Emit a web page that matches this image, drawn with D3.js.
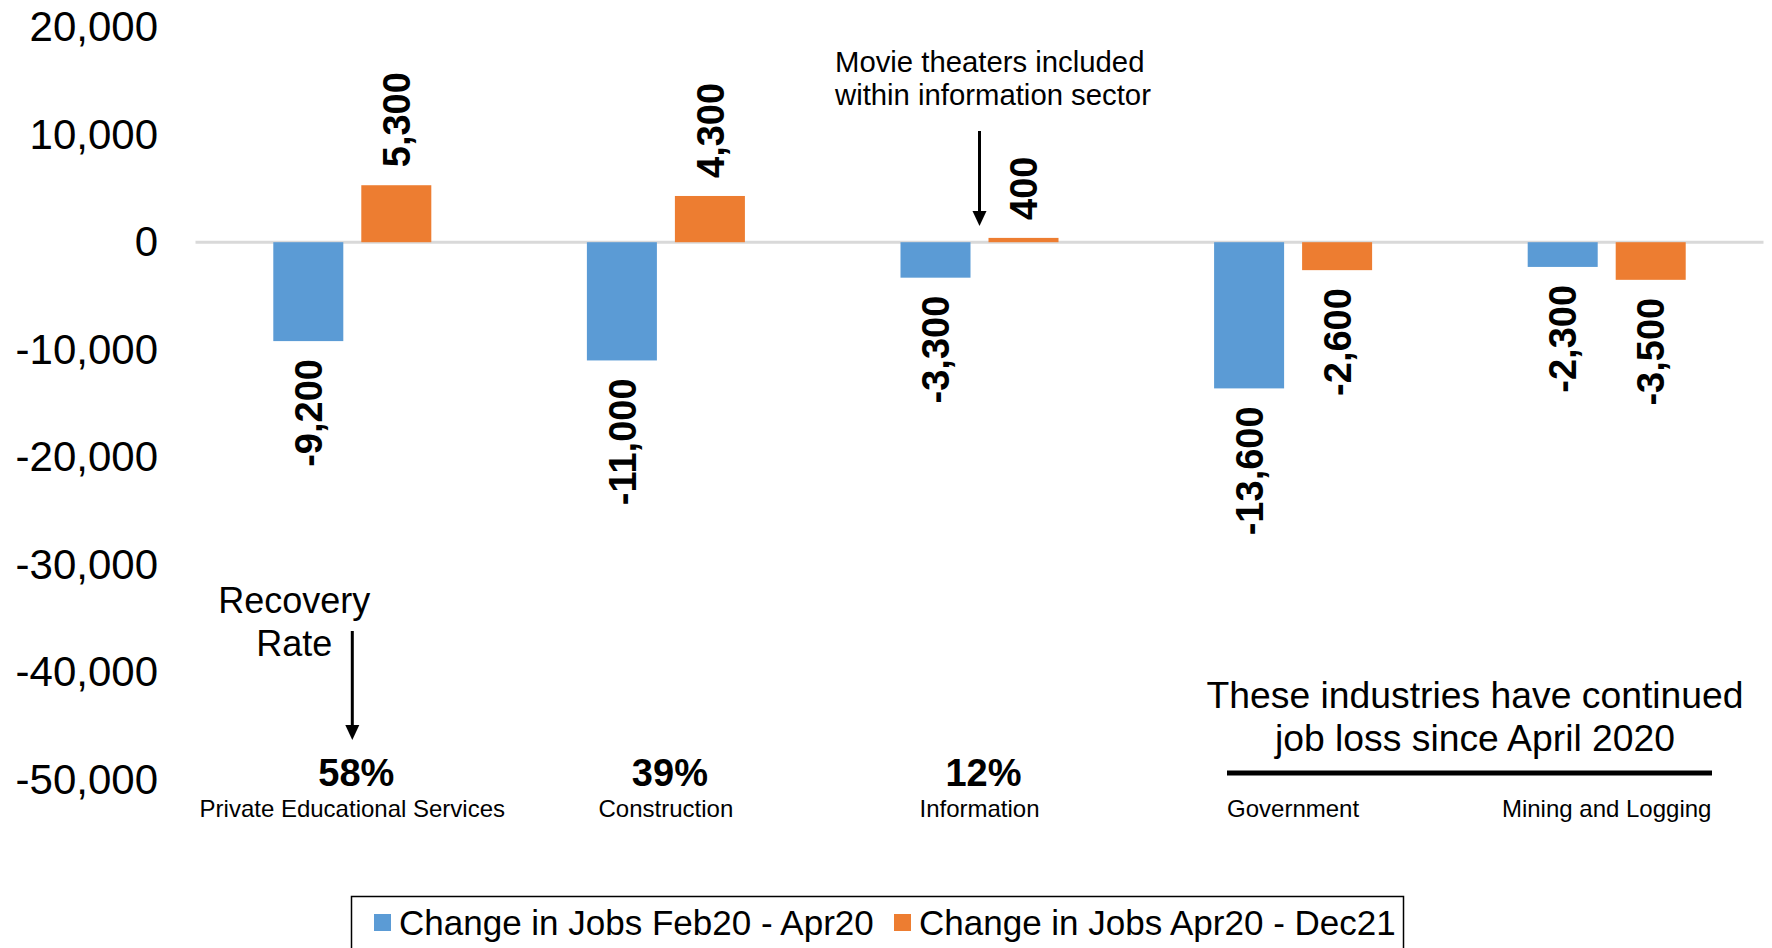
<!DOCTYPE html>
<html lang="en">
<head>
<meta charset="utf-8">
<title>Job change by industry</title>
<script src="https://cdn.jsdelivr.net/npm/d3@7"></script>
<style>
  body { margin: 0; background: #fff; }
  text { font-family: "Liberation Sans", Arial, sans-serif; fill: #000; }
</style>
</head>
<body>
<script>
// data
var categories = ["Private Educational Services", "Construction", "Information", "Government", "Mining and Logging"];
var series = ["Change in Jobs Feb20 - Apr20", "Change in Jobs Apr20 - Dec21"];
var febApr = [-9200, -11000, -3300, -13600, -2300];
var aprDec = [5300, 4300, 400, -2600, -3500];
var recovery = ["58%", "39%", "12%", null, null];
var yTicks = [20000, 10000, 0, -10000, -20000, -30000, -40000, -50000];
var colors = ["#5B9BD5", "#ED7D31"];

var w = 1772, h = 948;

// plain hyphen instead of unicode minus
var fmt = function (v) { return d3.format(",")(v).replace("\u2212", "-"); };

var svg = d3.select("body").append("svg")
    .attr("width", w)
    .attr("height", h);

// scales
var y = d3.scaleLinear()
    .domain([-50000, 20000])
    .range([779.7, 27.2]);

var x0 = d3.scaleBand()
    .domain(categories)
    .range([195.5, 1763.5]);

var x1 = d3.scaleBand()
    .domain(series)
    .range([0, x0.bandwidth()])
    .paddingInner(0.2045)
    .paddingOuter(0.884);

// y axis
var yAxis = d3.axisLeft(y)
    .tickValues(yTicks)
    .tickSize(0)
    .tickPadding(37)
    .tickFormat(fmt);

var gy = svg.append("g")
    .attr("transform", "translate(195,0)")
    .call(yAxis);
gy.select(".domain").remove();
gy.selectAll("text")
    .style("font-family", "'Liberation Sans', Arial, sans-serif")
    .style("font-size", "42px")
    .attr("fill", "#000");

// zero line
svg.append("line")
    .attr("x1", x0.range()[0])
    .attr("x2", x0.range()[1])
    .attr("y1", y(0))
    .attr("y2", y(0))
    .attr("stroke", "#d9d9d9")
    .attr("stroke-width", 3);

var rows = categories.map(function (c, i) {
    return [
        { cat: c, s: series[0], v: febApr[i], k: 0 },
        { cat: c, s: series[1], v: aprDec[i], k: 1 }
    ];
});
var flat = [].concat.apply([], rows);

// bars
svg.selectAll("rect.bar")
    .data(flat)
    .enter()
    .append("rect")
    .attr("class", "bar")
    .attr("x", function (d) { return x0(d.cat) + x1(d.s); })
    .attr("width", x1.bandwidth())
    .attr("y", function (d) { return y(Math.max(0, d.v)); })
    .attr("height", function (d) { return Math.abs(y(d.v) - y(0)); })
    .attr("fill", function (d) { return colors[d.k]; });

// value labels (rotated)
svg.selectAll("text.val")
    .data(flat)
    .enter()
    .append("text")
    .attr("class", "val")
    .attr("transform", function (d) {
        var cx = x0(d.cat) + x1(d.s) + x1.bandwidth() / 2;
        var yy = d.v >= 0 ? y(d.v) - 18 : y(d.v) + 18;
        return "translate(" + cx + "," + yy + ") rotate(-90)";
    })
    .attr("dy", "0.36em")
    .attr("text-anchor", function (d) { return d.v >= 0 ? "start" : "end"; })
    .style("font-size", "38px")
    .style("font-weight", "bold")
    .text(function (d) { return fmt(d.v); });

// category labels
svg.selectAll("text.cat")
    .data(categories)
    .enter()
    .append("text")
    .attr("class", "cat")
    .attr("x", function (d) { return x0(d) + x0.bandwidth() / 2; })
    .attr("y", 817)
    .attr("text-anchor", "middle")
    .style("font-size", "24px")
    .text(function (d) { return d; });

// recovery rates
svg.selectAll("text.rec")
    .data(categories.filter(function (d, i) { return recovery[i]; }))
    .enter()
    .append("text")
    .attr("class", "rec")
    .attr("x", function (d) { return x0(d) + x0.bandwidth() / 2 + 4; })
    .attr("y", 786)
    .attr("text-anchor", "middle")
    .style("font-size", "38px")
    .style("font-weight", "bold")
    .text(function (d) { return recovery[categories.indexOf(d)]; });

// arrow helper
function arrow(xp, yTop, yBot) {
    svg.append("line")
        .attr("x1", xp).attr("x2", xp)
        .attr("y1", yTop).attr("y2", yBot - 12)
        .attr("stroke", "#000")
        .attr("stroke-width", 3);
    svg.append("path")
        .attr("d", "M" + (xp - 7) + "," + (yBot - 15) + "L" + (xp + 7) + "," + (yBot - 15) + "L" + xp + "," + yBot + "Z")
        .attr("fill", "#000");
}

// Recovery Rate annotation
var c0 = x0(categories[0]) + x0.bandwidth() / 2;
var recText = svg.append("text")
    .attr("text-anchor", "middle")
    .style("font-size", "36px");
recText.append("tspan").attr("x", c0 - 58).attr("y", 613).text("Recovery");
recText.append("tspan").attr("x", c0 - 58).attr("y", 656).text("Rate");
arrow(c0, 631, 740);

// movie theaters annotation
var c2 = x0(categories[2]) + x0.bandwidth() / 2;
var mv = svg.append("text")
    .style("font-size", "29.3px");
mv.append("tspan").attr("x", 835).attr("y", 72).text("Movie theaters included");
mv.append("tspan").attr("x", 835).attr("y", 105).text("within information sector");
arrow(c2, 131, 226);

// continued job loss annotation
var jl = svg.append("text")
    .attr("text-anchor", "middle")
    .style("font-size", "37.3px");
jl.append("tspan").attr("x", 1475).attr("y", 708).text("These industries have continued");
jl.append("tspan").attr("x", 1475).attr("y", 751).text("job loss since April 2020");
svg.append("line")
    .attr("x1", 1227).attr("x2", 1712)
    .attr("y1", 773).attr("y2", 773)
    .attr("stroke", "#000")
    .attr("stroke-width", 5);

// legend
svg.append("rect")
    .attr("x", 351.5).attr("y", 896.5)
    .attr("width", 1052).attr("height", 60)
    .attr("fill", "none")
    .attr("stroke", "#000")
    .attr("stroke-width", 1.5);

var legX = [374, 894];
var leg = svg.selectAll("g.leg")
    .data(series)
    .enter()
    .append("g")
    .attr("class", "leg")
    .attr("transform", function (d, i) { return "translate(" + legX[i] + ",0)"; });
leg.append("rect")
    .attr("x", 0).attr("y", 914)
    .attr("width", 17).attr("height", 17)
    .attr("fill", function (d, i) { return colors[i]; });
leg.append("text")
    .attr("x", 25).attr("y", 935)
    .style("font-size", "35px")
    .text(function (d) { return d; });
</script>
</body>
</html>
